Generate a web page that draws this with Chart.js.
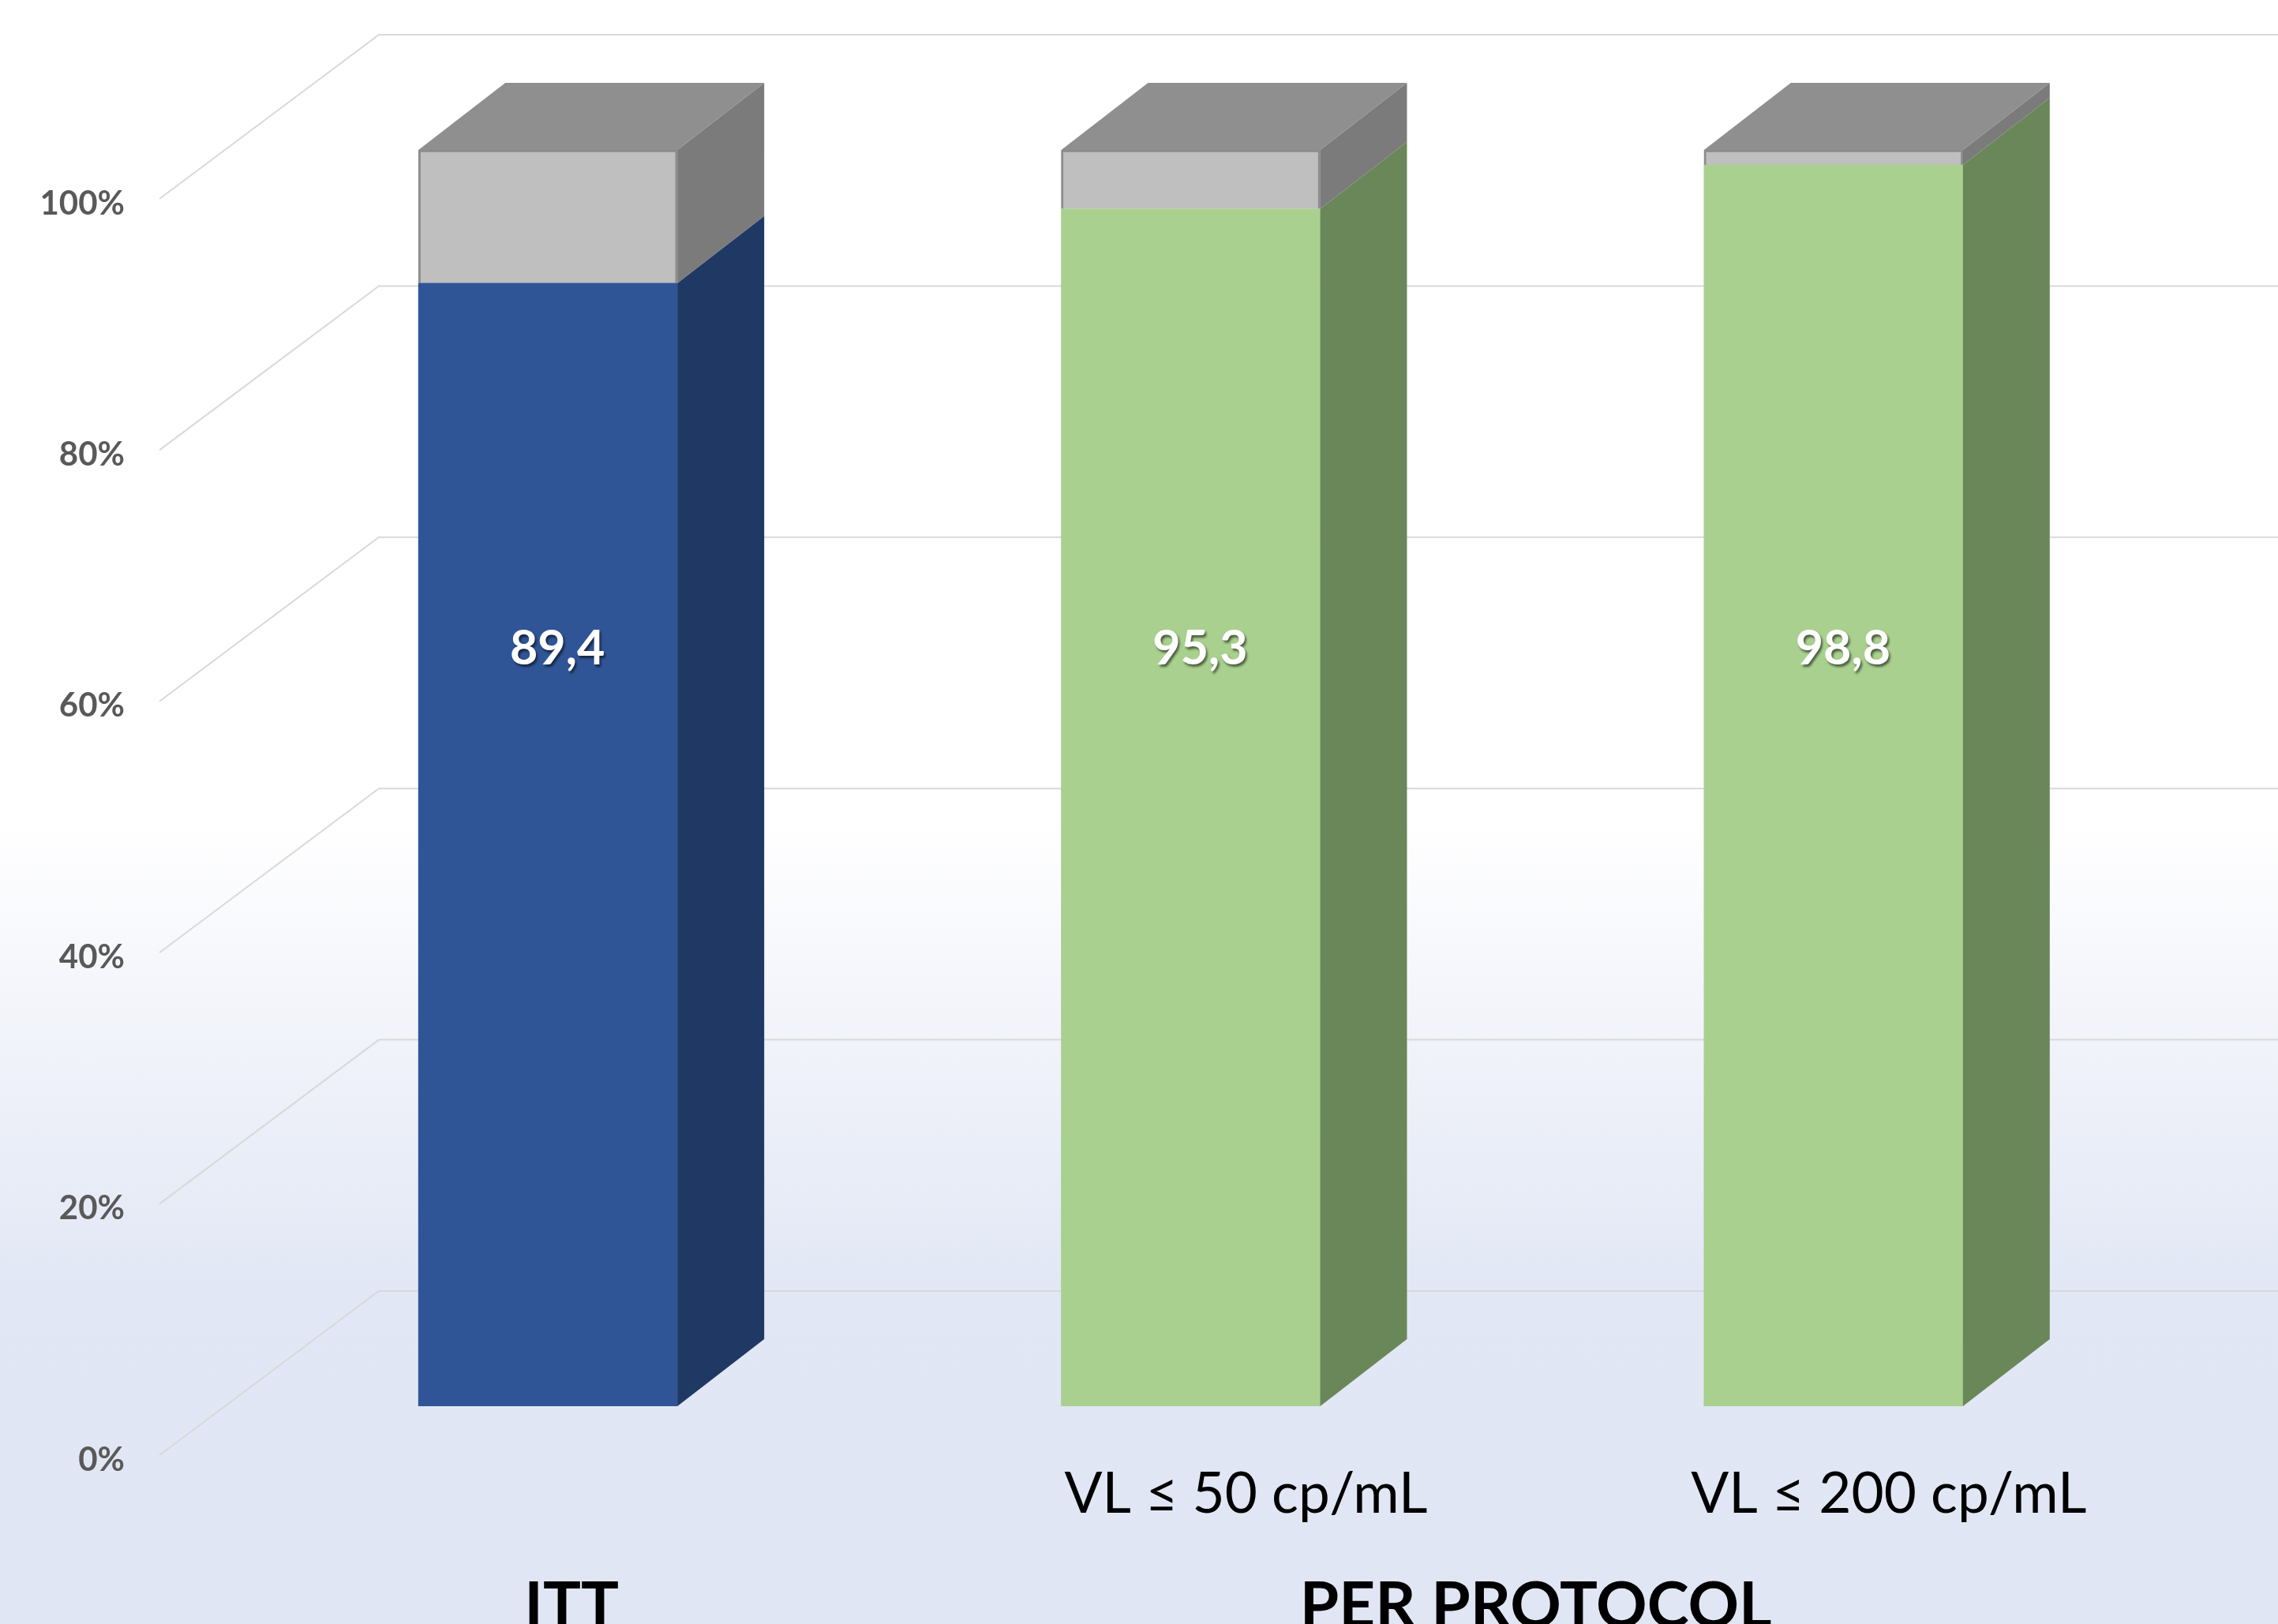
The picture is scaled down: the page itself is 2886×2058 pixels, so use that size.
<!DOCTYPE html>
<html>
<head>
<meta charset="utf-8">
<script src="https://cdn.jsdelivr.net/npm/chart.js@4.4.1/dist/chart.umd.min.js"></script>
<style>
  html, body { margin: 0; padding: 0; background: #fff; }
  #box { width: 2886px; height: 2058px; position: relative; }
</style>
</head>
<body>
<div id="box"><canvas id="chart"></canvas></div>
<script>
// categories (bottom tick row) and the group row below it
const categories = ["", "VL \u2264 50 cp/mL", "VL \u2264 200 cp/mL"];
const groupLabels = ["ITT", "PER PROTOCOL"];
const groupMembers = [[0], [1, 2]];

// values, in %
const suppressed = [89.4, 95.3, 98.8];
const remainder = [10.6, 4.7, 1.2];
const valueLabels = ["89,4", "95,3", "98,8"];

// y axis
const yMin = 0;
const yMax = 100;
const yStep = 20;

// colours
const frontColors = ["#2F5597", "#A9D08E", "#A9D08E"];
const sideColors = ["#203864", "#6A8759", "#6A8759"];
const restFront = "#BFBFBF";
const restSide = "#7B7B7B";
const topColor = "#8F8F8F";

// fake 3d geometry
const BAR_DX = 110, BAR_DY = -85;          // bar depth
const WALL_FRONT_DX = -85, WALL_FRONT_DY = 62;
const WALL_BACK_DX = 193, WALL_BACK_DY = -146;
const LABEL_LEVEL = 60;                    // data labels sit at this height
const GROUP_SHIFT = 30;

function poly(ctx, pts, fill) {
  ctx.beginPath();
  ctx.moveTo(pts[0][0], pts[0][1]);
  for (let i = 1; i < pts.length; i++) ctx.lineTo(pts[i][0], pts[i][1]);
  ctx.closePath();
  ctx.fillStyle = fill;
  ctx.fill();
}

const depth3d = {
  id: "depth3d",
  beforeDraw(chart) {
    const { ctx, width, height } = chart;
    const g = ctx.createLinearGradient(0, 0, 0, height);
    g.addColorStop(0, "#FFFFFF");
    g.addColorStop(1040 / 2058, "#FFFFFF");
    g.addColorStop(1320 / 2058, "#F1F3FA");
    g.addColorStop(1640 / 2058, "#E1E7F5");
    g.addColorStop(1, "#E0E6F4");
    ctx.save();
    ctx.fillStyle = g;
    ctx.fillRect(0, 0, width, height);
    ctx.restore();
  },
  beforeDatasetsDraw(chart) {
    const { ctx, chartArea, width } = chart;
    const y = chart.scales.y;
    ctx.save();
    ctx.strokeStyle = "#D9D9D9";
    ctx.lineWidth = 2;
    y.ticks.forEach((t) => {
      const py = y.getPixelForValue(t.value);
      ctx.beginPath();
      ctx.moveTo(chartArea.left + WALL_FRONT_DX, py + WALL_FRONT_DY);
      ctx.lineTo(chartArea.left + WALL_BACK_DX, py + WALL_BACK_DY);
      ctx.lineTo(width, py + WALL_BACK_DY);
      ctx.stroke();
    });
    ctx.restore();
  },
  afterDatasetsDraw(chart) {
    const { ctx } = chart;
    const low = chart.getDatasetMeta(0).data;
    const high = chart.getDatasetMeta(1).data;
    ctx.save();
    for (let i = 0; i < low.length; i++) {
      [[low[i], sideColors[i]], [high[i], restSide]].forEach(([bar, col]) => {
        const x1 = bar.x + bar.width / 2;
        poly(ctx, [[x1, bar.y], [x1 + BAR_DX, bar.y + BAR_DY],
                   [x1 + BAR_DX, bar.base + BAR_DY], [x1, bar.base]], col);
      });
      const b = high[i];
      const x0 = b.x - b.width / 2, x1 = b.x + b.width / 2;
      poly(ctx, [[x0, b.y], [x1, b.y], [x1 + BAR_DX, b.y + BAR_DY],
                 [x0 + BAR_DX, b.y + BAR_DY]], topColor);
    }
    // value labels
    const ly = chart.scales.y.getPixelForValue(LABEL_LEVEL);
    ctx.font = "bold 61px Lato";
    ctx.textAlign = "center";
    ctx.textBaseline = "middle";
    ctx.fillStyle = "#FFFFFF";
    ctx.shadowColor = "rgba(0,0,0,0.55)";
    ctx.shadowOffsetX = 2;
    ctx.shadowOffsetY = 3;
    ctx.shadowBlur = 3;
    low.forEach((bar, i) => ctx.fillText(valueLabels[i], bar.x + 12, ly - 4));
    ctx.restore();
  },
  afterDraw(chart) {
    const { ctx, height } = chart;
    const x = chart.scales.x;
    ctx.save();
    ctx.font = "bold 80px Lato";
    ctx.fillStyle = "#000000";
    ctx.textAlign = "center";
    ctx.textBaseline = "alphabetic";
    groupLabels.forEach((lab, gi) => {
      const idx = groupMembers[gi];
      const cx = idx.reduce((s, k) => s + x.getPixelForValue(k), 0) / idx.length;
      ctx.fillText(lab, cx + GROUP_SHIFT, height + 4);
    });
    ctx.restore();
  },
};

function draw() {
  new Chart(document.getElementById("chart"), {
    type: "bar",
    data: {
      labels: categories,
      datasets: [
        {
          data: suppressed,
          backgroundColor: frontColors,
          borderWidth: 0,
          barThickness: 328,
        },
        {
          data: remainder,
          backgroundColor: restFront,
          borderColor: "#8C8C8C",
          borderWidth: 3,
          barThickness: 328,
        },
      ],
    },
    options: {
      responsive: true,
      maintainAspectRatio: false,
      animation: false,
      devicePixelRatio: 1,
      events: [],
      layout: { padding: { top: 190, right: 156, left: 0, bottom: 0 } },
      plugins: { legend: { display: false }, tooltip: { enabled: false } },
      scales: {
        x: {
          stacked: true,
          grid: { display: false, drawTicks: false },
          border: { display: false },
          ticks: {
            color: "#000000",
            font: { family: "Lato", size: 71 },
            padding: 70,
            labelOffset: 70,
            maxRotation: 0,
          },
          afterFit(scale) { scale.height = 276; },
        },
        y: {
          stacked: true,
          min: yMin,
          max: yMax,
          grid: { display: false, drawTicks: false },
          border: { display: false },
          ticks: {
            stepSize: yStep,
            color: "#595959",
            font: { family: "Lato", size: 42, weight: "bold" },
            padding: 129,
            labelOffset: 68,
            callback: (v) => v + "%",
          },
          afterFit(scale) { scale.width = 287; },
        },
      },
    },
    plugins: [depth3d],
  });
}

Promise.all([
  document.fonts.load("71px Lato"),
  document.fonts.load("bold 80px Lato"),
]).then(draw, draw);
</script>
</body>
</html>
